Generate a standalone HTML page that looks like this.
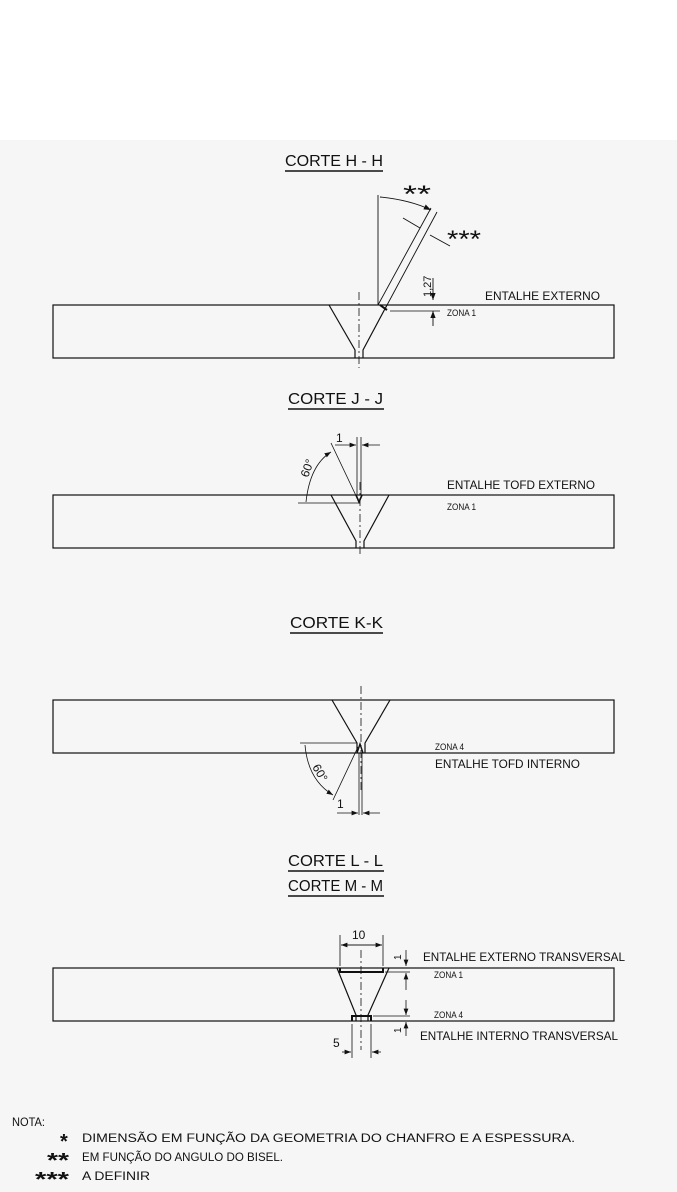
<!DOCTYPE html>
<html><head><meta charset="utf-8"><style>
html,body{margin:0;padding:0;background:#fff}
svg{display:block}
text{font-family:"Liberation Sans",sans-serif;fill:#111}
</style></head><body>
<svg width="677" height="1192" viewBox="0 0 677 1192" xmlns="http://www.w3.org/2000/svg">
<rect x="0" y="140" width="677" height="1052" fill="#f6f6f6"/>
<defs>
<marker id="a" markerWidth="8" markerHeight="6" refX="8" refY="3" orient="auto"><path d="M0,0 L8,3 L0,6 z" fill="#111"/></marker>
</defs>
<g stroke="#111" stroke-width="1.2" fill="none">
<!-- H-H -->
<line x1="285" y1="171" x2="383" y2="171" stroke-width="1.6"/>
<rect x="53" y="305" width="561" height="53"/>
<polyline points="329,305 355,350 355,358"/>
<polyline points="387,305 363,350 363,358"/>
<line x1="359" y1="292" x2="359" y2="368" stroke-dasharray="8,3,2,3" stroke-width="0.8"/>
<line x1="378" y1="195" x2="378" y2="305" stroke-width="0.9"/>
<line x1="378" y1="305" x2="431" y2="208" stroke-width="0.9"/>
<line x1="386" y1="307" x2="437" y2="212" stroke-width="0.9"/>
<path d="M380,197 Q410,200 431,210" marker-end="url(#a)" stroke-width="0.9"/>
<line x1="403" y1="218" x2="420" y2="228" stroke-width="0.9"/>
<line x1="430" y1="235" x2="450" y2="246" stroke-width="0.9"/>
<line x1="433" y1="278" x2="433" y2="300" stroke-width="0.9" marker-end="url(#a)"/>
<line x1="433" y1="326" x2="433" y2="311" stroke-width="0.9" marker-end="url(#a)"/>
<line x1="390" y1="311" x2="440" y2="311" stroke-width="0.7"/>
<line x1="380" y1="305" x2="387" y2="310" stroke-width="2"/>
<!-- J-J -->
<line x1="288" y1="409" x2="384" y2="409" stroke-width="1.6"/>
<rect x="53" y="495" width="561" height="53"/>
<polyline points="331,495 356,541 356,548"/>
<polyline points="389,495 364,541 364,548"/>
<line x1="360" y1="482" x2="360" y2="556" stroke-dasharray="8,3,2,3" stroke-width="0.8"/>
<line x1="357" y1="437" x2="357" y2="495" stroke-width="0.8"/>
<line x1="361" y1="437" x2="361" y2="495" stroke-width="0.8"/>
<line x1="335" y1="445" x2="356" y2="445" stroke-width="0.8" marker-end="url(#a)"/>
<line x1="380" y1="445" x2="362" y2="445" stroke-width="0.8" marker-end="url(#a)"/>
<line x1="331" y1="443" x2="359" y2="502" stroke-width="0.8"/>
<line x1="298" y1="503" x2="360" y2="503" stroke-width="0.8"/>
<path d="M306,502 Q310,465 331,452" stroke-width="0.8" marker-end="url(#a)"/>
<path d="M356,495 L359,502 L362,495" stroke-width="1.6"/>
<!-- K-K -->
<line x1="290" y1="633" x2="383" y2="633" stroke-width="1.6"/>
<rect x="53" y="700" width="561" height="53"/>
<polyline points="332,700 357,743 357,753"/>
<polyline points="390,700 365,743 365,753"/>
<line x1="361" y1="686" x2="361" y2="790" stroke-dasharray="8,3,2,3" stroke-width="0.8"/>
<line x1="300" y1="743" x2="357" y2="743" stroke-width="0.8"/>
<line x1="359" y1="753" x2="359" y2="815" stroke-width="0.8"/>
<line x1="362" y1="753" x2="362" y2="815" stroke-width="0.8"/>
<line x1="358" y1="747" x2="333" y2="800" stroke-width="0.8"/>
<path d="M305,745 Q308,780 333,795" stroke-width="0.8" marker-end="url(#a)"/>
<line x1="337" y1="813" x2="358" y2="813" stroke-width="0.8" marker-end="url(#a)"/>
<line x1="380" y1="813" x2="363" y2="813" stroke-width="0.8" marker-end="url(#a)"/>
<path d="M357,753 L360,744 L363,753" stroke-width="1.4"/>
<!-- L-L M-M -->
<line x1="288" y1="871" x2="384" y2="871" stroke-width="1.6"/>
<line x1="288" y1="896" x2="384" y2="896" stroke-width="1.6"/>
<rect x="53" y="968" width="561" height="53"/>
<polyline points="337,968 356,1015 356,1021"/>
<polyline points="389,968 368,1015 368,1021"/>
<line x1="361" y1="950" x2="361" y2="1050" stroke-dasharray="8,3,2,3" stroke-width="0.8"/>
<path d="M340,968 L340,972 L383,972 L383,968" stroke-width="2"/>
<path d="M352,1021 L352,1016 L371,1016 L371,1021" stroke-width="2"/>
<line x1="340" y1="935" x2="340" y2="966" stroke-width="0.8"/>
<line x1="383" y1="935" x2="383" y2="966" stroke-width="0.8"/>
<line x1="341" y1="945" x2="382" y2="945" stroke-width="0.8" marker-end="url(#a)"/>
<line x1="382" y1="945" x2="341" y2="945" stroke-width="0.8" marker-end="url(#a)"/>
<line x1="352" y1="1024" x2="352" y2="1058" stroke-width="0.8"/>
<line x1="371" y1="1024" x2="371" y2="1058" stroke-width="0.8"/>
<line x1="342" y1="1052" x2="351" y2="1052" stroke-width="0.8" marker-end="url(#a)"/>
<line x1="381" y1="1052" x2="372" y2="1052" stroke-width="0.8" marker-end="url(#a)"/>
<line x1="406" y1="950" x2="406" y2="966" stroke-width="0.8" marker-end="url(#a)"/>
<line x1="406" y1="990" x2="406" y2="973" stroke-width="0.8" marker-end="url(#a)"/>
<line x1="406" y1="1000" x2="406" y2="1015" stroke-width="0.8" marker-end="url(#a)"/>
<line x1="406" y1="1036" x2="406" y2="1022" stroke-width="0.8" marker-end="url(#a)"/>
<line x1="385" y1="972" x2="410" y2="972" stroke-width="0.7"/>
<line x1="373" y1="1016" x2="410" y2="1016" stroke-width="0.7"/>
</g>
<g font-size="16" lengthAdjust="spacingAndGlyphs">
<text x="285" y="166" textLength="98" lengthAdjust="spacingAndGlyphs">CORTE  H - H</text>
<text x="288" y="404" textLength="95" lengthAdjust="spacingAndGlyphs">CORTE  J - J</text>
<text x="290" y="628" textLength="93" lengthAdjust="spacingAndGlyphs">CORTE  K-K</text>
<text x="288" y="866" textLength="95" lengthAdjust="spacingAndGlyphs">CORTE  L - L</text>
<text x="288" y="891" textLength="95" lengthAdjust="spacingAndGlyphs">CORTE  M - M</text>
</g>
<text x="403" y="202" font-size="24" textLength="28" lengthAdjust="spacingAndGlyphs">**</text>
<text x="447" y="247" font-size="24" textLength="34" lengthAdjust="spacingAndGlyphs">***</text>
<text x="0" y="0" font-size="11" transform="translate(431,297) rotate(-90)">1,27</text>
<g font-size="12">
<text x="485" y="300" textLength="115" lengthAdjust="spacingAndGlyphs">ENTALHE  EXTERNO</text>
<text x="447" y="489" textLength="148" lengthAdjust="spacingAndGlyphs">ENTALHE TOFD EXTERNO</text>
<text x="435" y="768" textLength="145" lengthAdjust="spacingAndGlyphs">ENTALHE TOFD INTERNO</text>
<text x="423" y="961" textLength="202" lengthAdjust="spacingAndGlyphs">ENTALHE EXTERNO TRANSVERSAL</text>
<text x="420" y="1040" textLength="198" lengthAdjust="spacingAndGlyphs">ENTALHE INTERNO TRANSVERSAL</text>
</g>
<g font-size="9">
<text x="447" y="316" textLength="29" lengthAdjust="spacingAndGlyphs">ZONA 1</text>
<text x="447" y="510" textLength="29" lengthAdjust="spacingAndGlyphs">ZONA 1</text>
<text x="435" y="750" textLength="29" lengthAdjust="spacingAndGlyphs">ZONA 4</text>
<text x="434" y="978" textLength="29" lengthAdjust="spacingAndGlyphs">ZONA 1</text>
<text x="434" y="1018" textLength="29" lengthAdjust="spacingAndGlyphs">ZONA 4</text>
</g>
<g font-size="12">
<text x="336" y="442">1</text>
<text x="0" y="0" transform="translate(308,478) rotate(-70)">60°</text>
<text x="0" y="0" transform="translate(312,767) rotate(60)">60°</text>
<text x="337" y="808">1</text>
<text x="352" y="939">10</text>
<text x="333" y="1047">5</text>
<text x="0" y="0" font-size="10" transform="translate(401,960) rotate(-90)">1</text>
<text x="0" y="0" font-size="10" transform="translate(401,1033) rotate(-90)">1</text>
</g>
<g font-size="11.5">
<text x="12" y="1126" textLength="33" lengthAdjust="spacingAndGlyphs">NOTA:</text>
<text x="60" y="1148" font-size="20" font-weight="bold">*</text>
<text x="82" y="1142" textLength="493" lengthAdjust="spacingAndGlyphs">DIMENSÃO EM FUNÇÃO DA GEOMETRIA DO CHANFRO E A ESPESSURA.</text>
<text x="47" y="1167" font-size="20" font-weight="bold" textLength="22" lengthAdjust="spacingAndGlyphs">**</text>
<text x="82" y="1161" textLength="201" lengthAdjust="spacingAndGlyphs">EM FUNÇÃO DO ANGULO DO BISEL.</text>
<text x="35" y="1186" font-size="20" font-weight="bold" textLength="34" lengthAdjust="spacingAndGlyphs">***</text>
<text x="82" y="1180" textLength="68" lengthAdjust="spacingAndGlyphs">A DEFINIR</text>
</g>
</svg>
</body></html>
